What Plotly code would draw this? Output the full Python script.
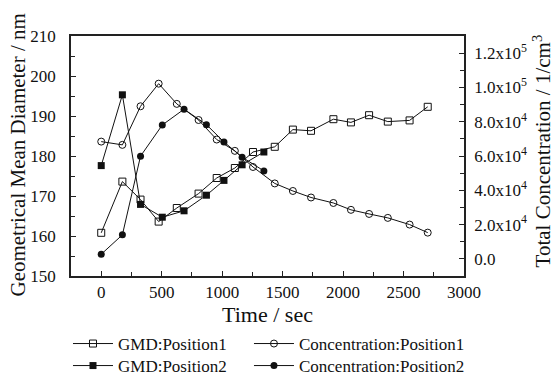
import plotly.graph_objects as go

# Sampling times (s) for the two measurement positions
time_pos1 = [0, 175, 325, 475, 625, 805, 955, 1105, 1255, 1435, 1585, 1735,
             1920, 2065, 2215, 2370, 2550, 2700]
time_pos2 = [0, 175, 325, 505, 685, 870, 1015, 1165, 1345]

# Geometrical mean diameter (nm)
gmd_pos1 = [160.8, 173.6, 169.1, 163.6, 167.0, 170.6, 174.5, 177.0, 181.0,
            182.3, 186.6, 186.3, 189.2, 188.4, 190.2, 188.6, 188.9, 192.3]
gmd_pos2 = [177.6, 195.3, 167.9, 164.7, 166.3, 170.2, 173.9, 177.8, 181.0]

# Total number concentration (1/cm^3)
conc_pos1 = [68400, 66500, 89000, 102200, 90400, 81000, 69600, 63000, 53600,
             44000, 39600, 35800, 32600, 28600, 26200, 23900, 20000, 15300]
conc_pos2 = [2700, 14000, 59900, 78100, 87300, 78300, 68200, 59300, 51300]

# Right-axis tick labels
conc_tickvals = [0, 20000, 40000, 60000, 80000, 100000, 120000]
conc_ticktext = ["0.0", "2.0x10<sup>4</sup>", "4.0x10<sup>4</sup>",
                 "6.0x10<sup>4</sup>", "8.0x10<sup>4</sup>",
                 "1.0x10<sup>5</sup>", "1.2x10<sup>5</sup>"]

FONT = "Liberation Serif"
INK = "#111111"
AXIS = "#222222"

line_style = dict(color=INK, width=1)

fig = go.Figure()
# Each series gets its own one-entry legend so the 2x2 legend grid can be placed exactly
fig.add_trace(go.Scatter(
    x=time_pos1, y=gmd_pos1, name="GMD:Position1", mode="lines+markers",
    line=line_style, legend="legend",
    marker=dict(symbol="square-open", size=7, color=INK, line=dict(width=1, color=INK)),
))
fig.add_trace(go.Scatter(
    x=time_pos1, y=conc_pos1, name="Concentration:Position1", mode="lines+markers",
    yaxis="y2", line=line_style, legend="legend2",
    marker=dict(symbol="circle-open", size=7, color=INK, line=dict(width=1, color=INK)),
))
fig.add_trace(go.Scatter(
    x=time_pos2, y=gmd_pos2, name="GMD:Position2", mode="lines+markers",
    line=line_style, legend="legend3",
    marker=dict(symbol="square", size=7, color=INK),
))
fig.add_trace(go.Scatter(
    x=time_pos2, y=conc_pos2, name="Concentration:Position2", mode="lines+markers",
    yaxis="y2", line=line_style, legend="legend4",
    marker=dict(symbol="circle", size=7, color=INK),
))

legend_common = dict(
    orientation="v", xref="container", yref="container",
    xanchor="left", yanchor="top", itemwidth=40,
    font=dict(family=FONT, size=17, color=INK),
    bgcolor="rgba(0,0,0,0)", tracegroupgap=0,
)
col_x = [0.1223, 0.4478]
row_y = [0.1237, 0.0645]

fig.update_layout(
    width=556, height=372,
    margin=dict(l=71, r=92, t=36, b=96, autoexpand=False),
    paper_bgcolor="white", plot_bgcolor="white",
    font=dict(family=FONT, size=17, color=INK),
    showlegend=True,
    legend=dict(x=col_x[0], y=row_y[0], **legend_common),
    legend2=dict(x=col_x[1], y=row_y[0], **legend_common),
    legend3=dict(x=col_x[0], y=row_y[1], **legend_common),
    legend4=dict(x=col_x[1], y=row_y[1], **legend_common),
    xaxis=dict(
        range=[-250, 3000], tickvals=[0, 500, 1000, 1500, 2000, 2500, 3000],
        ticks="inside", ticklen=5, tickcolor=AXIS, tickwidth=1,
        minor=dict(dtick=250, ticks="inside", ticklen=4, tickcolor=AXIS),
        showline=True, linecolor=AXIS, linewidth=1.5, mirror=True,
        showgrid=False, zeroline=False,
        title=dict(text="Time / sec", font=dict(family=FONT, size=22), standoff=4),
        tickfont=dict(family=FONT, size=17),
    ),
    yaxis=dict(
        range=[150, 210], tickvals=[150, 160, 170, 180, 190, 200, 210],
        ticks="inside", ticklen=5, tickcolor=AXIS, tickwidth=1,
        minor=dict(dtick=5, ticks="inside", ticklen=4, tickcolor=AXIS),
        showline=True, linecolor=AXIS, linewidth=1.5,
        showgrid=False, zeroline=False, ticklabelstandoff=10,
        tickfont=dict(family=FONT, size=17),
    ),
    yaxis2=dict(
        overlaying="y", side="right", range=[-10000, 130000],
        tickvals=conc_tickvals, ticktext=conc_ticktext,
        ticks="inside", ticklen=5, tickcolor=AXIS, tickwidth=1,
        minor=dict(dtick=10000, ticks="inside", ticklen=4, tickcolor=AXIS),
        showline=True, linecolor=AXIS, linewidth=1.5,
        showgrid=False, zeroline=False, ticklabelstandoff=5,
        tickfont=dict(family=FONT, size=17),
    ),
    annotations=[
        dict(text="Geometrical Mean Diameter / nm", textangle=-90,
             xref="paper", yref="paper", x=-0.1336, y=0.504,
             xanchor="center", yanchor="middle", showarrow=False,
             font=dict(family=FONT, size=21, color=INK)),
        dict(text="Total Concentration / 1/cm<sup>3</sup>", textangle=-90,
             xref="paper", yref="paper", x=1.1985, y=0.519,
             xanchor="center", yanchor="middle", showarrow=False,
             font=dict(family=FONT, size=21, color=INK)),
    ],
)

fig.write_html("out.html")
